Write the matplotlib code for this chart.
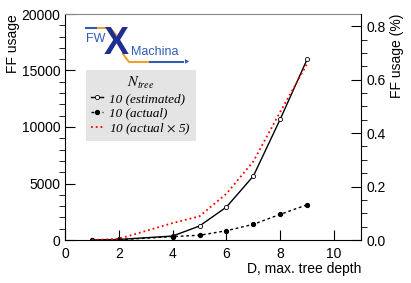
import numpy as np
import matplotlib
matplotlib.use("Agg")
from matplotlib import pyplot as plt
from matplotlib.ticker import MultipleLocator

plt.rcParams['font.family'] = ['Liberation Sans', 'DejaVu Sans']
plt.rcParams['mathtext.fontset'] = 'stix'

# dati
depth = [1, 2, 4, 5, 6, 7, 8, 9]
ff_estimated = [0, 50, 350, 1240, 2920, 5660, 10700, 16000]
ff_actual = [0, 20, 300, 420, 820, 1390, 2270, 3120]
scale = 5
ff_total = 2364480  # FF totali del dispositivo, per l'asse in %

labels = ['10 (estimated)', '10 (actual)', r'10 (actual $\times$ 5)']

fig = plt.figure(figsize=(4.11, 2.83), dpi=100)
ax = fig.add_axes([65/411, 43/283, 296/411, 226/283])

ax.plot(depth, ff_estimated, '-o', color='black', lw=1.0, ms=3.0,
        mfc='white', mec='black', mew=0.6, label=labels[0])
ax.plot(depth, ff_actual, '--o', color='black', lw=1.0, ms=2.8,
        dashes=(2, 2), label=labels[1])
ax.plot(depth, np.array(ff_actual) * scale, ':', color='red', lw=1.3,
        label=labels[2])

ax.set_xlim(0, 11)
ax.set_ylim(0, 20000)
ax.xaxis.set_major_locator(MultipleLocator(2))
ax.yaxis.set_major_locator(MultipleLocator(5000))
ax.yaxis.set_minor_locator(MultipleLocator(1000))
ax.tick_params(axis='both', direction='in', labelsize=10, width=0.8)
ax.tick_params(axis='y', which='major', length=7)
ax.tick_params(axis='y', which='minor', length=4, width=0.6)
ax.tick_params(axis='x', which='major', length=7, pad=5)
ax.spines['top'].set_color('#888888')
ax.spines['right'].set_visible(False)

ax.set_xlabel('D, max. tree depth', fontsize=10, loc='right', labelpad=1)
ax.set_ylabel('FF usage', fontsize=10, loc='top', labelpad=1)

ax2 = ax.twinx()
ax2.set_ylim(0, 20000 / ff_total * 100)
ax2.yaxis.set_major_locator(MultipleLocator(0.2))
ax2.yaxis.set_minor_locator(MultipleLocator(0.05))
ax2.tick_params(axis='y', direction='in', labelsize=10, width=0.8, pad=4)
ax2.tick_params(axis='y', which='major', length=7)
ax2.tick_params(axis='y', which='minor', length=4, width=0.6)
for s in ['top', 'left', 'bottom']:
    ax2.spines[s].set_visible(False)
ax2.set_ylabel('FF usage (%)', fontsize=10, loc='top', labelpad=3)

leg = ax.legend(loc='upper left', bbox_to_anchor=(0.071, 0.752),
                title=r'$N_{tree}$', frameon=True, fancybox=False,
                facecolor='#e4e4e4', edgecolor='none', framealpha=1,
                prop={'family': 'Liberation Serif', 'style': 'italic', 'size': 9.5},
                handlelength=0.9, handletextpad=0.5, labelspacing=0.15,
                borderpad=0.35, borderaxespad=0)
leg.get_title().set_fontsize(10.5)

# logo FW X Machina
def fx(px):
    return px / 411

def fy(py):
    return 1 - py / 283

blue = '#2f5db5'
navy = '#1f2f8f'
orange = '#f0a030'
fig.add_artist(plt.Line2D([fx(86), fx(98)], [fy(28), fy(28)], color=blue, lw=1.5))
fig.add_artist(plt.Line2D([fx(98), fx(110), fx(116)], [fy(28), fy(28), fy(35)], color=orange, lw=1.5))
fig.add_artist(plt.Line2D([fx(123), fx(129), fx(150)], [fy(54), fy(62), fy(62)], color=orange, lw=1.5))
fig.add_artist(plt.Line2D([fx(150), fx(183)], [fy(62), fy(62)], color=blue, lw=1.5))
fig.text(fx(187), fy(62), '\u25B6', color=blue, fontsize=4, ha='center', va='center',
         family='DejaVu Sans')
fig.text(fx(86), fy(39), 'FW', color=blue, fontsize=9, ha='left', va='center')
fig.text(fx(116), fy(44), 'X', color=navy, fontsize=27, weight='bold', ha='center', va='center')
fig.text(fx(131), fy(52), 'Machina', color=blue, fontsize=9, ha='left', va='center')

fig.savefig('out.png', dpi=100)
